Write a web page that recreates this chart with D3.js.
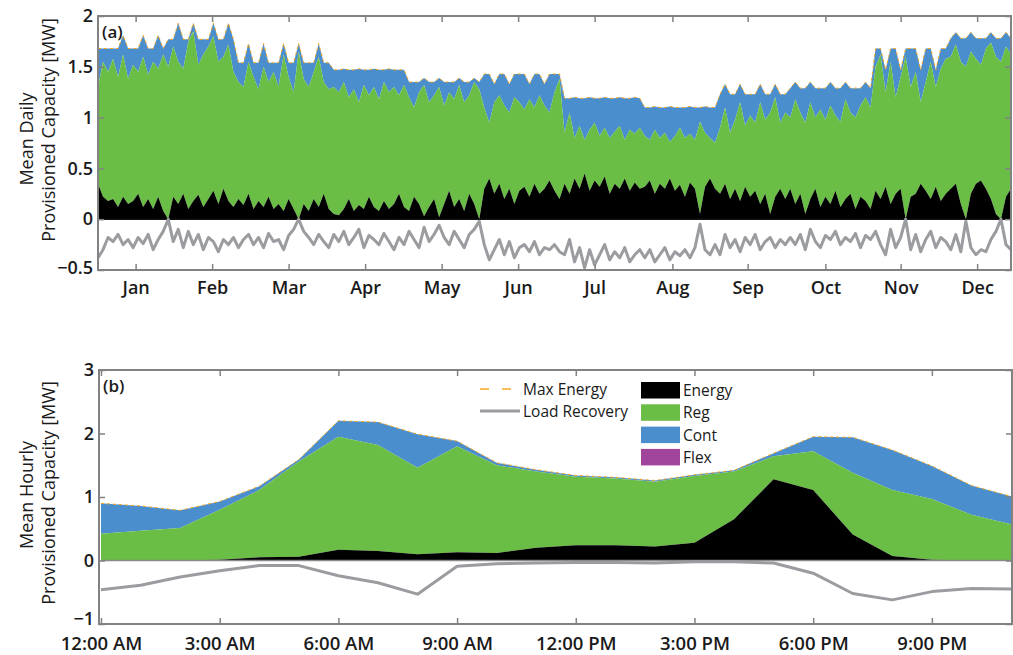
<!DOCTYPE html>
<html>
<head>
<meta charset="utf-8">
<script src="https://d3js.org/d3.v7.min.js"></script>
<style>
  body { margin: 0; background: #fff; }
  text { font-family: "Open Sans", sans-serif; fill: #1a1a1a; }
</style>
</head>
<body>
<div id="chart"></div>
<script>
// ---- panel (a): mean daily values, one sample every 2nd day of the year ----
var maxEnergy = [
  1.68,1.68,1.68,1.68,1.68,1.81,1.68,1.68,1.68,1.81,1.68,1.68,1.81,1.68,
  1.77,1.77,1.93,1.77,1.77,1.93,1.77,1.77,1.77,1.93,1.77,1.77,1.93,1.77,
  1.54,1.54,1.73,1.54,1.54,1.73,1.54,1.54,1.54,1.73,1.54,1.54,1.73,1.54,1.54,1.54,1.73,1.54,1.54,
  1.47,1.47,1.48,1.47,1.47,1.48,1.47,1.47,1.48,1.47,1.47,1.48,1.47,1.47,1.47,
  1.35,1.35,1.35,1.39,1.35,1.35,1.39,1.35,1.35,1.35,1.39,1.35,1.35,1.39,1.35,
  1.43,1.43,1.33,1.43,1.43,1.33,1.43,1.43,1.43,1.33,1.43,1.43,1.33,1.43,1.43,1.43,
  1.19,1.19,1.20,1.19,1.19,1.20,1.19,1.19,1.20,1.19,1.19,1.20,1.19,1.19,1.20,1.19,
  1.10,1.10,1.11,1.10,1.10,1.11,1.10,1.10,1.10,1.11,1.10,1.10,1.11,1.10,1.10,
  1.23,1.33,1.23,1.23,1.33,1.23,1.23,1.23,1.33,1.23,1.23,1.33,1.23,1.23,
  1.29,1.35,1.29,1.29,1.35,1.29,1.29,1.29,1.35,1.29,1.29,1.35,1.29,1.29,1.29,1.35,1.29,
  1.68,1.68,1.47,1.68,1.68,1.47,1.68,1.68,1.68,1.47,1.68,1.68,1.47,1.68,1.68,
  1.78,1.84,1.78,1.78,1.84,1.78,1.78,1.78,1.84,1.78,1.78,1.84,1.78
];
// top of the Reg band (Energy + Reg)
var regTop = [
  1.30,1.55,1.45,1.58,1.40,1.62,1.38,1.52,1.45,1.60,1.42,1.55,1.48,1.62,
  1.50,1.70,1.55,1.48,1.75,1.85,1.52,1.62,1.70,1.80,1.55,1.60,1.72,1.45,
  1.35,1.30,1.55,1.40,1.28,1.50,1.35,1.45,1.30,1.62,1.40,1.25,1.65,1.38,1.30,1.45,1.60,1.35,1.28,
  1.30,1.25,1.35,1.20,1.28,1.15,1.32,1.22,1.30,1.18,1.35,1.25,1.30,1.22,1.32,
  1.20,1.10,1.25,1.32,1.15,1.22,1.30,1.12,1.25,1.18,1.32,1.15,1.22,1.35,1.28,
  1.10,0.95,1.15,1.22,1.12,1.05,1.20,1.15,1.08,1.18,1.10,1.22,1.12,1.05,1.25,1.38,
  0.85,1.05,0.80,0.92,0.78,0.88,0.95,0.82,0.90,0.80,0.86,0.92,0.78,0.88,0.84,0.90,
  0.82,0.78,0.88,0.80,0.85,0.76,0.82,0.90,0.80,0.84,0.78,0.96,0.85,0.80,0.75,
  0.90,1.10,0.85,0.98,1.15,0.92,1.02,0.95,1.15,0.98,1.05,1.20,0.95,1.05,
  1.00,1.18,1.05,0.95,1.15,1.00,1.08,0.98,1.12,1.02,0.96,1.18,1.05,1.00,1.12,1.20,1.10,
  1.50,1.62,1.25,1.55,1.20,1.40,1.60,1.30,1.45,1.15,1.35,1.55,1.30,1.48,1.58,
  1.60,1.72,1.55,1.50,1.65,1.58,1.52,1.68,1.74,1.60,1.55,1.70,1.62
];
var energyTop = [
  0.35,0.22,0.18,0.20,0.12,0.22,0.15,0.18,0.25,0.12,0.20,0.10,0.22,0.08,
  0.00,0.22,0.15,0.25,0.10,0.18,0.24,0.12,0.20,0.28,0.15,0.30,0.18,0.12,
  0.20,0.14,0.25,0.10,0.18,0.12,0.22,0.10,0.15,0.08,0.20,0.10,0.00,0.15,0.08,0.20,0.12,0.25,0.10,
  0.05,0.04,0.10,0.20,0.08,0.14,0.10,0.22,0.12,0.08,0.18,0.10,0.15,0.25,0.12,
  0.08,0.22,0.15,0.03,0.12,0.20,0.02,0.15,0.28,0.12,0.20,0.08,0.25,0.15,0.00,
  0.30,0.40,0.25,0.35,0.20,0.30,0.15,0.28,0.32,0.22,0.35,0.25,0.30,0.38,0.28,0.20,
  0.35,0.25,0.40,0.30,0.45,0.28,0.38,0.32,0.42,0.25,0.35,0.30,0.40,0.28,0.36,0.30,
  0.32,0.38,0.25,0.35,0.30,0.40,0.28,0.34,0.22,0.36,0.30,0.05,0.32,0.40,0.30,
  0.25,0.35,0.20,0.30,0.18,0.32,0.22,0.28,0.15,0.25,0.05,0.22,0.30,0.20,
  0.30,0.15,0.25,0.05,0.20,0.30,0.12,0.22,0.15,0.28,0.12,0.20,0.25,0.10,0.22,0.18,0.10,
  0.28,0.20,0.32,0.15,0.25,0.30,0.00,0.22,0.25,0.35,0.28,0.20,0.32,0.18,0.25,
  0.30,0.35,0.15,0.00,0.25,0.35,0.38,0.30,0.20,0.05,0.00,0.22,0.30
];
var loadRecovery = [
  -0.38,-0.30,-0.18,-0.22,-0.15,-0.25,-0.20,-0.28,-0.18,-0.24,-0.15,-0.30,-0.20,-0.12,
  0.00,-0.22,-0.10,-0.28,-0.12,-0.25,-0.15,-0.30,-0.18,-0.22,-0.32,-0.20,-0.25,-0.18,
  -0.28,-0.20,-0.15,-0.25,-0.18,-0.28,-0.14,-0.22,-0.20,-0.30,-0.16,-0.10,0.00,-0.12,-0.18,-0.25,-0.15,-0.22,-0.28,
  -0.15,-0.22,-0.12,-0.25,-0.18,-0.10,-0.28,-0.16,-0.20,-0.25,-0.14,-0.22,-0.30,-0.18,-0.25,
  -0.12,-0.20,-0.28,-0.08,-0.22,-0.15,-0.06,-0.18,-0.25,-0.12,-0.20,-0.28,-0.15,-0.10,-0.02,
  -0.25,-0.40,-0.30,-0.20,-0.35,-0.22,-0.38,-0.28,-0.25,-0.32,-0.22,-0.35,-0.28,-0.30,-0.25,-0.32,
  -0.35,-0.20,-0.42,-0.28,-0.48,-0.30,-0.45,-0.35,-0.25,-0.40,-0.32,-0.38,-0.28,-0.42,-0.35,-0.30,
  -0.38,-0.30,-0.42,-0.35,-0.28,-0.40,-0.32,-0.36,-0.30,-0.38,-0.28,-0.05,-0.30,-0.35,-0.25,
  -0.35,-0.15,-0.28,-0.20,-0.32,-0.18,-0.25,-0.15,-0.30,-0.22,-0.18,-0.28,-0.20,-0.25,
  -0.18,-0.25,-0.15,-0.30,-0.10,-0.22,-0.28,-0.16,-0.20,-0.12,-0.25,-0.18,-0.22,-0.14,-0.28,-0.16,-0.20,
  -0.12,-0.25,-0.35,-0.10,-0.28,-0.18,0.00,-0.30,-0.15,-0.32,-0.20,-0.12,-0.28,-0.18,-0.22,
  -0.30,-0.15,-0.32,-0.02,-0.28,-0.35,-0.30,-0.32,-0.20,-0.12,0.00,-0.25,-0.30
];
var days = d3.range(0, 366, 2);
var monthTicks = [15, 45.5, 76, 106.5, 137, 167.5, 198, 229, 259, 290, 320, 350.5];
var monthLabels = ["Jan","Feb","Mar","Apr","May","Jun","Jul","Aug","Sep","Oct","Nov","Dec"];
var dailyYTicks = [-0.5, 0, 0.5, 1, 1.5, 2];

// ---- panel (b): mean hourly values ----
var hours = d3.range(0, 24);
var hourlyMaxEnergy = [0.90,0.86,0.79,0.93,1.17,1.59,2.20,2.18,1.99,1.88,1.54,1.43,1.34,1.31,1.26,1.35,1.42,1.69,1.95,1.94,1.74,1.49,1.18,1.01];
var hourlyRegTop    = [0.42,0.47,0.51,0.80,1.11,1.56,1.95,1.82,1.46,1.80,1.50,1.40,1.32,1.29,1.24,1.33,1.40,1.64,1.72,1.38,1.11,0.97,0.72,0.57];
var hourlyEnergyTop = [0.00,0.00,0.00,0.01,0.05,0.06,0.17,0.15,0.10,0.13,0.12,0.20,0.24,0.24,0.22,0.28,0.65,1.28,1.11,0.41,0.07,0.01,0.00,0.00];
var hourlyLoadRecovery = [-0.46,-0.39,-0.26,-0.16,-0.08,-0.08,-0.24,-0.35,-0.53,-0.09,-0.05,-0.04,-0.03,-0.03,-0.04,-0.02,-0.02,-0.04,-0.20,-0.52,-0.62,-0.49,-0.44,-0.45];
var hourTicks = [0, 3, 6, 9, 12, 15, 18, 21];
var hourLabels = ["12:00 AM","3:00 AM","6:00 AM","9:00 AM","12:00 PM","3:00 PM","6:00 PM","9:00 PM"];
var hourlyYTicks = [-1, 0, 1, 2, 3];

var col = {
  energy: "#000000", reg: "#6abd45", cont: "#4a8ecd", flex: "#a1449b",
  maxE: "#f6a623", load: "#9b9ca0", frame: "#828282"
};

var svg = d3.select("#chart").append("svg")
  .attr("width", 1013).attr("height", 655);

function fmt(d) { return d < 0 ? "\u2212" + Math.abs(d) : String(d); }

function panel(o) {
  var g = svg.append("g");
  var x = o.x, y = o.y;
  var pts = o.xs.map(function(d, i) {
    return { x: d, e: o.energy[i], r: o.reg[i], m: o.max[i], l: o.load[i] };
  });

  g.append("path").datum(pts).attr("fill", col.cont)
    .attr("d", d3.area().x(function(d) { return x(d.x); })
      .y0(function(d) { return y(d.r); }).y1(function(d) { return y(d.m); }));
  g.append("path").datum(pts).attr("fill", col.reg)
    .attr("d", d3.area().x(function(d) { return x(d.x); })
      .y0(function(d) { return y(d.e); }).y1(function(d) { return y(d.r); }));
  g.append("path").datum(pts).attr("fill", col.energy)
    .attr("d", d3.area().x(function(d) { return x(d.x); })
      .y0(y(0)).y1(function(d) { return y(d.e); }));

  // zero line
  g.append("line")
    .attr("x1", x.range()[0]).attr("x2", x.range()[1])
    .attr("y1", y(0)).attr("y2", y(0))
    .attr("stroke", o.zeroColor).attr("stroke-width", 1.5);

  g.append("path").datum(pts).attr("fill", "none")
    .attr("stroke", col.maxE).attr("stroke-width", 1)
    .attr("stroke-dasharray", "3,3")
    .attr("d", d3.line().x(function(d) { return x(d.x); }).y(function(d) { return y(d.m); }));

  g.append("path").datum(pts).attr("fill", "none")
    .attr("stroke", col.load).attr("stroke-width", 3)
    .attr("stroke-linejoin", "round")
    .attr("d", d3.line().x(function(d) { return x(d.x); }).y(function(d) { return y(d.l); }));

  // frame + inward ticks on all four sides
  var x0 = o.box[0], x1 = o.box[1], y0 = y.range()[1], y1 = y.range()[0];
  g.append("rect").attr("x", x0).attr("y", y0)
    .attr("width", x1 - x0).attr("height", y1 - y0)
    .attr("fill", "none").attr("stroke", col.frame).attr("stroke-width", 2);

  var ax = g.append("g").attr("transform", "translate(0," + y1 + ")")
    .call(d3.axisBottom(x).tickValues(o.xTicks)
      .tickFormat(function(d, i) { return o.xLabels[i]; })
      .tickSizeInner(-6).tickSizeOuter(0).tickPadding(o.xPad));
  ax.selectAll("text").style("font-size", o.xFont + "px").style("font-weight", 600);
  g.append("g").attr("transform", "translate(0," + y0 + ")")
    .call(d3.axisTop(x).tickValues(o.xTicks).tickFormat("").tickSizeInner(-6).tickSizeOuter(0));

  var ay = g.append("g").attr("transform", "translate(" + x0 + ",0)")
    .call(d3.axisLeft(y).tickValues(o.yTicks).tickFormat(fmt)
      .tickSizeInner(-6).tickSizeOuter(0).tickPadding(5));
  ay.selectAll("text").style("font-size", "18px").style("font-weight", 600);
  // lowest label sits a little above its tick, clear of the time labels
  ay.selectAll(".tick").filter(function(d) { return d === o.yTicks[0]; })
    .select("text").attr("dy", o.lowDy);
  g.append("g").attr("transform", "translate(" + x1 + ",0)")
    .call(d3.axisRight(y).tickValues(o.yTicks).tickFormat("").tickSizeInner(-6).tickSizeOuter(0));

  g.selectAll(".domain").remove();
  g.selectAll(".tick line").attr("stroke", col.frame).attr("stroke-width", 1.5);
  g.selectAll(".tick text").attr("fill", "#1a1a1a");

  g.append("text").attr("x", x0 + 4).attr("y", y0 + 22)
    .style("font-size", "17px").style("font-weight", 600).text(o.tag);

  // two-line rotated y title
  o.title.forEach(function(t) {
    g.append("text")
      .attr("transform", "translate(" + t[1] + "," + t[2] + ") rotate(-90)")
      .attr("text-anchor", "middle")
      .style("font-size", "18px")
      .text(t[0]);
  });
  return g;
}

var xDay = d3.scaleLinear().domain([0, 364]).range([98, 1011]);
var yDay = d3.scaleLinear().domain([-0.5, 2]).range([270, 16]);
panel({
  x: xDay, y: yDay, xs: days,
  energy: energyTop, reg: regTop, max: maxEnergy, load: loadRecovery,
  box: [98, 1011], xTicks: monthTicks, xLabels: monthLabels, xFont: 18, xPad: 11,
  yTicks: dailyYTicks, tag: "(a)", zeroColor: "#111", lowDy: "0.2em",
  title: [["Mean Daily", 33, 139], ["Provisioned Capacity [MW]", 55, 130]]
});

var xHour = d3.scaleLinear().domain([0, 23]).range([101, 1011]);
var yHour = d3.scaleLinear().domain([-1, 3]).range([624, 370]);
var gb = panel({
  x: xHour, y: yHour, xs: hours,
  energy: hourlyEnergyTop, reg: hourlyRegTop, max: hourlyMaxEnergy, load: hourlyLoadRecovery,
  box: [99, 1012], xTicks: hourTicks, xLabels: hourLabels, xFont: 18.5, xPad: 13,
  yTicks: hourlyYTicks, tag: "(b)", zeroColor: "#8a8a8a", lowDy: "0.05em",
  title: [["Mean Hourly", 33, 495], ["Provisioned Capacity [MW]", 55, 493]]
});

// legend for panel (b)
var lineItems = [
  { label: "Max Energy", color: col.maxE, dash: "9,13", w: 1.5, y: 389 },
  { label: "Load Recovery", color: col.load, dash: null, w: 3, y: 411 }
];
var boxItems = [
  { label: "Energy", color: col.energy },
  { label: "Reg", color: col.reg },
  { label: "Cont", color: col.cont },
  { label: "Flex", color: col.flex }
];
var leg = gb.append("g");
lineItems.forEach(function(d) {
  leg.append("line").attr("x1", 480).attr("x2", 520).attr("y1", d.y).attr("y2", d.y)
    .attr("stroke", d.color).attr("stroke-width", d.w)
    .attr("stroke-dasharray", d.dash);
  leg.append("text").attr("x", 523).attr("y", d.y + 6)
    .style("font-size", "15.5px").style("font-weight", 500).text(d.label);
});
boxItems.forEach(function(d, i) {
  var yy = 382 + i * 22.3;
  leg.append("rect").attr("x", 641).attr("y", yy).attr("width", 39).attr("height", 16.5)
    .attr("fill", d.color);
  leg.append("text").attr("x", 683).attr("y", yy + 14)
    .style("font-size", "15.5px").style("font-weight", 500).text(d.label);
});
</script>
</body>
</html>
